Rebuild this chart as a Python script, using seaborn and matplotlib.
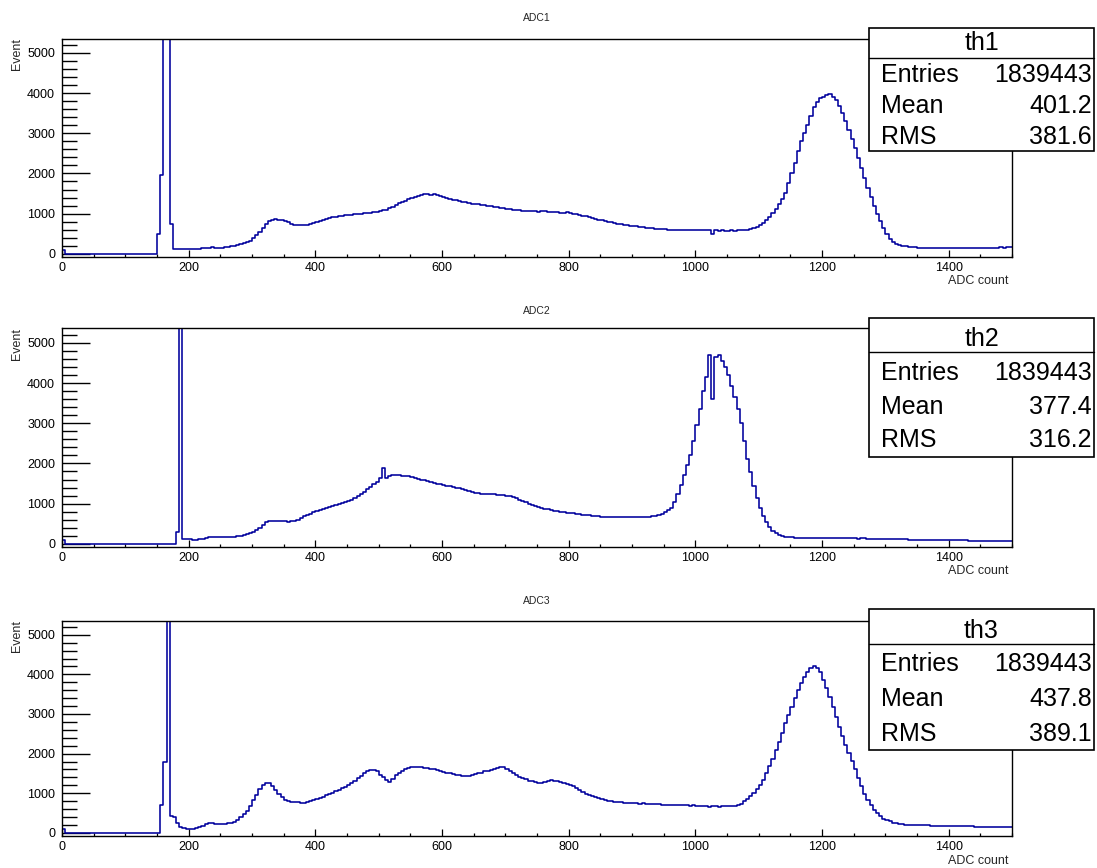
import numpy as np
import pandas as pd
import matplotlib
matplotlib.use("Agg")
import matplotlib.pyplot as plt
import seaborn as sns
from matplotlib.patches import Rectangle
from matplotlib.lines import Line2D
from matplotlib.ticker import MultipleLocator

# ---------------------------------------------------------------- data
BIN_WIDTH = 5
X_MIN, X_MAX = 0, 1500

# counts per 5-ADC bin, 0..1500 (10 bins per row = 50 ADC)
adc1_counts = [
    100, 5, 5, 5, 5, 5, 5, 5, 5, 5,
    5, 5, 5, 5, 5, 5, 5, 5, 5, 5,
    5, 5, 5, 5, 5, 5, 5, 5, 5, 5,
    500, 1950, 12000, 12000, 750, 130, 125, 122, 120, 118,
    115, 112, 118, 125, 132, 142, 152, 158, 150, 152,
    155, 165, 180, 195, 205, 220, 235, 260, 290, 330,
    390, 460, 550, 650, 750, 810, 850, 860, 845, 830,
    805, 780, 750, 725, 710, 715, 705, 710, 735, 765,
    790, 820, 850, 870, 890, 910, 925, 940, 950, 955,
    965, 975, 980, 990, 1000, 1005, 1020, 1025, 1040, 1050,
    1065, 1080, 1100, 1130, 1170, 1210, 1260, 1290, 1320, 1360,
    1390, 1410, 1440, 1460, 1480, 1500, 1470, 1490, 1460, 1440,
    1410, 1390, 1370, 1350, 1330, 1310, 1290, 1280, 1260, 1250,
    1240, 1230, 1220, 1210, 1200, 1190, 1175, 1160, 1140, 1130,
    1120, 1110, 1100, 1090, 1080, 1070, 1060, 1065, 1055, 1060,
    1050, 1060, 1065, 1050, 1045, 1040, 1030, 1025, 1020, 1030,
    1020, 1000, 980, 965, 950, 930, 910, 890, 870, 850,
    830, 810, 790, 780, 760, 745, 730, 720, 705, 695,
    685, 680, 670, 660, 650, 640, 630, 620, 615, 610,
    605, 600, 595, 590, 600, 590, 585, 595, 590, 588,
    590, 595, 585, 590, 580, 490, 580, 575, 580, 570,
    575, 580, 570, 580, 585, 590, 600, 610, 630, 660,
    710, 770, 830, 910, 1010, 1120, 1240, 1370, 1510, 1760,
    2010, 2260, 2560, 2810, 3010, 3210, 3430, 3660, 3790, 3880,
    3910, 3960, 3980, 3910, 3830, 3690, 3510, 3310, 3090, 2870,
    2630, 2390, 2140, 1890, 1650, 1420, 1200, 1000, 810, 650,
    490, 370, 300, 250, 220, 200, 185, 175, 165, 160,
    155, 150, 148, 145, 142, 140, 138, 140, 138, 135,
    138, 140, 142, 140, 145, 143, 140, 148, 145, 150,
    148, 150, 152, 150, 155, 152, 158, 155, 160, 158,
]

adc2_counts = [
    100, 5, 5, 5, 5, 5, 5, 5, 5, 5,
    5, 5, 5, 5, 5, 5, 5, 5, 5, 5,
    5, 5, 5, 5, 5, 5, 5, 5, 5, 5,
    5, 5, 5, 5, 5, 5, 300, 12000, 130, 120,
    110, 100, 100, 110, 125, 145, 165, 175, 170, 165,
    160, 158, 157, 165, 175, 185, 200, 215, 240, 270,
    300, 340, 400, 470, 540, 560, 570, 575, 570, 560,
    555, 550, 555, 570, 600, 640, 680, 720, 750, 780,
    810, 840, 865, 890, 920, 950, 970, 990, 1020, 1050,
    1070, 1100, 1140, 1190, 1250, 1300, 1360, 1420, 1490, 1540,
    1650, 1880, 1640, 1700, 1725, 1720, 1710, 1700, 1690, 1680,
    1660, 1640, 1620, 1600, 1580, 1560, 1540, 1520, 1495, 1480,
    1460, 1445, 1430, 1410, 1395, 1380, 1360, 1340, 1320, 1290,
    1270, 1260, 1250, 1245, 1240, 1235, 1230, 1225, 1220, 1210,
    1200, 1190, 1170, 1140, 1100, 1070, 1040, 1000, 960, 930,
    910, 890, 870, 855, 840, 825, 810, 800, 785, 775,
    765, 755, 745, 735, 725, 715, 710, 700, 690, 680,
    675, 670, 670, 665, 668, 660, 665, 670, 660, 665,
    660, 665, 660, 670, 665, 670, 680, 690, 710, 740,
    780, 830, 900, 1040, 1230, 1470, 1720, 1950, 2200, 2550,
    2950, 3350, 3800, 4150, 4690, 3600, 4650, 4690, 4560, 4400,
    4200, 3920, 3650, 3350, 3000, 2550, 2100, 1780, 1450, 1150,
    900, 700, 530, 420, 330, 270, 220, 195, 180, 170,
    160, 155, 150, 148, 145, 145, 142, 140, 140, 140,
    138, 138, 136, 135, 135, 135, 134, 133, 132, 132,
    132, 130, 135, 132, 130, 128, 130, 128, 125, 122,
    120, 118, 116, 115, 112, 110, 108, 106, 105, 104,
    102, 100, 98, 96, 95, 94, 92, 92, 90, 90,
    88, 86, 85, 84, 83, 82, 80, 80, 80, 78,
    78, 77, 76, 75, 75, 74, 74, 73, 72, 72,
]

adc3_counts = [
    100, 5, 5, 5, 5, 5, 5, 5, 5, 5,
    5, 5, 5, 5, 5, 5, 5, 5, 5, 5,
    5, 5, 5, 5, 5, 5, 5, 5, 5, 5,
    5, 700, 1800, 12000, 420, 400, 250, 150, 110, 95,
    90, 95, 110, 150, 180, 230, 250, 240, 230, 220,
    220, 225, 240, 260, 280, 330, 400, 470, 560, 680,
    820, 960, 1100, 1200, 1260, 1250, 1180, 1080, 990, 900,
    820, 800, 790, 780, 770, 760, 750, 770, 800, 830,
    860, 880, 910, 950, 980, 1010, 1050, 1090, 1120, 1160,
    1200, 1260, 1320, 1380, 1440, 1500, 1550, 1580, 1590, 1560,
    1450, 1400, 1330, 1290, 1350, 1450, 1500, 1560, 1600, 1630,
    1650, 1660, 1670, 1650, 1640, 1630, 1620, 1600, 1580, 1560,
    1540, 1520, 1500, 1490, 1470, 1450, 1440, 1435, 1440, 1460,
    1480, 1500, 1520, 1550, 1560, 1580, 1600, 1630, 1650, 1670,
    1620, 1560, 1500, 1450, 1420, 1380, 1350, 1320, 1300, 1280,
    1270, 1265, 1280, 1300, 1330, 1320, 1300, 1280, 1265, 1230,
    1200, 1170, 1120, 1080, 1030, 990, 960, 930, 900, 870,
    850, 830, 810, 800, 790, 780, 770, 760, 755, 750,
    750, 745, 740, 745, 740, 735, 730, 725, 720, 715,
    710, 705, 700, 705, 700, 695, 700, 690, 685, 690,
    680, 675, 670, 665, 660, 665, 670, 660, 665, 670,
    665, 670, 680, 700, 740, 800, 860, 930, 1010, 1100,
    1200, 1330, 1500, 1680, 1870, 2080, 2300, 2530, 2760, 2980,
    3180, 3400, 3600, 3780, 3930, 4050, 4150, 4200, 4150, 4050,
    3870, 3650, 3420, 3180, 2930, 2680, 2440, 2220, 2020, 1820,
    1600, 1380, 1170, 990, 840, 700, 580, 490, 420, 360,
    320, 290, 260, 240, 225, 215, 210, 205, 200, 198,
    195, 192, 190, 188, 185, 182, 180, 178, 176, 175,
    172, 170, 170, 168, 165, 165, 162, 160, 158, 156,
    155, 152, 150, 150, 148, 146, 145, 142, 140, 138,
]

panel_titles = ["ADC1", "ADC2", "ADC3"]
hist_names = ["th1", "th2", "th3"]
entries = ["1839443", "1839443", "1839443"]
means = ["401.2", "377.4", "437.8"]
rms_values = ["381.6", "316.2", "389.1"]
x_label = "ADC count"
y_label = "Event"

# ---------------------------------------------------------------- style
sns.set_style("white")
plt.rcParams["font.family"] = ["Liberation Sans", "DejaVu Sans"]

W, H = 1097, 868
LINE_COLOR = "#00009c"


def fx(px):
    return px / W


def fy(py):
    return 1.0 - py / H


fig = plt.figure(figsize=(W / 100, H / 100), dpi=100)
fig.patch.set_facecolor("white")

centers = np.arange(X_MIN, X_MAX, BIN_WIDTH) + BIN_WIDTH / 2

frame_left, frame_right = 62, 1012
frames = [(38.5, 257), (328.5, 547), (620.5, 836)]
title_y = [18, 311, 601]
xlabel_y = [281, 571, 861]
boxes = [
    dict(top=28, div=58, bottom=151, rows=(43, 75, 106, 137)),
    dict(top=318, div=352, bottom=457, rows=(339, 373, 407, 440)),
    dict(top=609, div=644, bottom=750, rows=(631, 664, 699, 734)),
]
box_left, box_right = 869, 1094

series = [adc1_counts, adc2_counts, adc3_counts]

for i, counts in enumerate(series):
    top, bottom = frames[i]
    ax = fig.add_axes([fx(frame_left), fy(bottom),
                       (frame_right - frame_left) / W, (bottom - top) / H])
    df = pd.DataFrame({"adc": centers, "count": np.asarray(counts, float)})
    sns.histplot(data=df, x="adc", weights="count", binwidth=BIN_WIDTH,
                 binrange=(X_MIN, X_MAX), element="step", fill=False,
                 color=LINE_COLOR, linewidth=1.15, ax=ax)
    ax.set_xlim(X_MIN, X_MAX)
    ax.set_ylim(-80, 5360)
    ax.set_xlabel("")
    ax.set_ylabel("")
    for sp in ax.spines.values():
        sp.set_visible(True)
        sp.set_color("black")
        sp.set_linewidth(1.0)
    ax.xaxis.set_major_locator(MultipleLocator(200))
    ax.xaxis.set_minor_locator(MultipleLocator(50))
    ax.yaxis.set_major_locator(MultipleLocator(1000))
    ax.yaxis.set_minor_locator(MultipleLocator(200))
    ax.tick_params(axis="x", which="both", direction="in", bottom=True,
                   top=False, labelsize=9, pad=3.5, colors="black")
    ax.tick_params(axis="x", which="major", length=5, width=0.9)
    ax.tick_params(axis="x", which="minor", length=2.5, width=0.9)
    ax.tick_params(axis="y", which="both", direction="in", left=True,
                   right=False, labelsize=9, pad=5, colors="black")
    ax.tick_params(axis="y", which="major", length=20, width=1.0)
    ax.tick_params(axis="y", which="minor", length=10.8, width=1.0)
    ax.grid(False)

    # titles and axis captions
    fig.text(fx(537), fy(title_y[i]), panel_titles[i], ha="center",
             va="center", fontsize=7.5)
    fig.text(fx(1008), fy(xlabel_y[i]), x_label, ha="right", va="center",
             fontsize=9)
    fig.text(fx(17), fy(top), y_label, ha="center", va="top",
             rotation=90, fontsize=9)

    # statistics box
    b = boxes[i]
    fig.add_artist(Rectangle((fx(box_left), fy(b["bottom"])),
                             (box_right - box_left) / W,
                             (b["bottom"] - b["top"]) / H,
                             transform=fig.transFigure, facecolor="white",
                             edgecolor="black", linewidth=1.2, zorder=10))
    fig.add_artist(Line2D([fx(box_left), fx(box_right)],
                          [fy(b["div"]), fy(b["div"])],
                          transform=fig.transFigure, color="black",
                          linewidth=1.0, zorder=11))
    r = b["rows"]
    fig.text(fx((box_left + box_right) / 2), fy(r[0]), hist_names[i],
             ha="center", va="center", fontsize=18, color="black",
             zorder=12)
    labels = ["Entries", "Mean", "RMS"]
    vals = [entries[i], means[i], rms_values[i]]
    for k in range(3):
        fig.text(fx(881), fy(r[k + 1]), labels[k], ha="left", va="center",
                 fontsize=18, color="black", zorder=12)
        fig.text(fx(1092), fy(r[k + 1]), vals[k], ha="right", va="center",
                 fontsize=18, color="black", zorder=12)

fig.savefig("out.png", dpi=100)
